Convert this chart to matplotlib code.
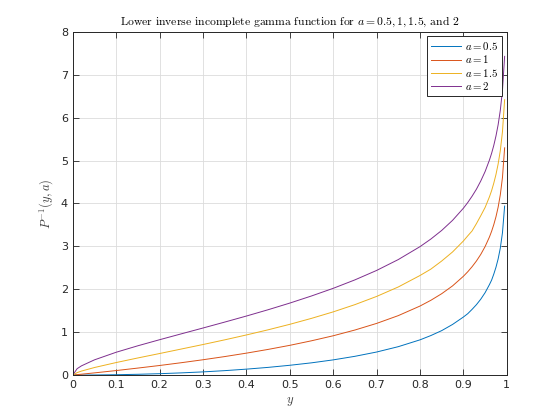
import matplotlib
matplotlib.use("Agg")
import matplotlib.pyplot as plt

# probability levels y
y = [0, 0.01, 0.02, 0.05, 0.1, 0.15, 0.2, 0.25, 0.3, 0.35, 0.4, 0.45, 0.5,
     0.55, 0.6, 0.65, 0.7, 0.75, 0.8, 0.825, 0.85, 0.875, 0.9, 0.91, 0.92,
     0.93, 0.94, 0.95, 0.96, 0.965, 0.97, 0.975, 0.98, 0.985, 0.99, 0.995]

p_a05 = [0, 0.0001, 0.0003, 0.002, 0.008, 0.018, 0.032, 0.051, 0.074, 0.103,
         0.138, 0.179, 0.228, 0.285, 0.354, 0.437, 0.537, 0.662, 0.821, 0.921,
         1.036, 1.180, 1.353, 1.431, 1.532, 1.641, 1.769, 1.921, 2.109, 2.214,
         2.353, 2.512, 2.706, 2.958, 3.317, 3.940]
p_a1 = [0, 0.010, 0.020, 0.051, 0.105, 0.163, 0.223, 0.288, 0.357, 0.431,
        0.511, 0.598, 0.693, 0.799, 0.916, 1.050, 1.204, 1.386, 1.609, 1.743,
        1.897, 2.079, 2.303, 2.408, 2.526, 2.659, 2.813, 2.996, 3.219, 3.352,
        3.507, 3.689, 3.912, 4.200, 4.605, 5.298]
p_a15 = [0, 0.057, 0.093, 0.176, 0.292, 0.399, 0.502, 0.607, 0.712, 0.821,
         0.935, 1.055, 1.183, 1.322, 1.473, 1.642, 1.833, 2.054, 2.321, 2.470,
         2.659, 2.870, 3.126, 3.245, 3.360, 3.530, 3.715, 3.907, 4.155, 4.300,
         4.474, 4.674, 4.919, 5.230, 5.672, 6.419]
p_a2 = [0, 0.149, 0.215, 0.355, 0.532, 0.683, 0.824, 0.961, 1.097, 1.235,
        1.376, 1.523, 1.678, 1.844, 2.022, 2.219, 2.439, 2.693, 2.994, 3.171,
        3.372, 3.607, 3.890, 4.022, 4.170, 4.333, 4.525, 4.744, 5.013, 5.170,
        5.354, 5.572, 5.834, 6.170, 6.638, 7.430]

series = [p_a05, p_a1, p_a15, p_a2]
labels = [r"$a = 0.5$", r"$a = 1$", r"$a = 1.5$", r"$a = 2$"]
colors = ["#0072BD", "#D95319", "#EDB120", "#7E2F8E"]

plt.rcParams["mathtext.fontset"] = "cm"
plt.rcParams["font.family"] = ["DejaVu Sans"]

fig = plt.figure(figsize=(5.6, 4.2), dpi=100)
ax = fig.add_axes([0.13, 0.107, 0.775, 0.817])

for vals, lab, col in zip(series, labels, colors):
    ax.plot(y, vals, color=col, linewidth=0.7, label=lab)

ax.set_xlim(0, 1)
ax.set_ylim(0, 8)
ax.set_xticks([i / 10 for i in range(11)])
ax.set_xticklabels(["0", "0.1", "0.2", "0.3", "0.4", "0.5", "0.6", "0.7", "0.8", "0.9", "1"])
ax.set_yticks(range(9))
ax.tick_params(direction="in", top=True, right=True, labelsize=8, colors="#262626",
               length=4, width=0.6)
for s in ax.spines.values():
    s.set_color("#262626")
    s.set_linewidth(0.7)
ax.grid(True, color="#dcdcdc", linewidth=0.6)
ax.set_axisbelow(True)

ax.set_title(r"Lower inverse incomplete gamma function for $a = 0.5, 1, 1.5$, and $2$",
             fontfamily="cmr10", fontsize=8.4, pad=5)
ax.set_xlabel(r"$y$", fontsize=9, color="#404040")
ax.set_ylabel(r"$P^{-1}(y,a)$", fontsize=9, color="#404040")

leg = ax.legend(loc="upper right", fontsize=7.8, fancybox=False, framealpha=1,
                edgecolor="#262626", handlelength=2.8, handletextpad=0.4,
                borderpad=0.35, labelspacing=0.12, borderaxespad=0.4)
leg.get_frame().set_linewidth(0.7)

fig.savefig("out.png", dpi=100)
